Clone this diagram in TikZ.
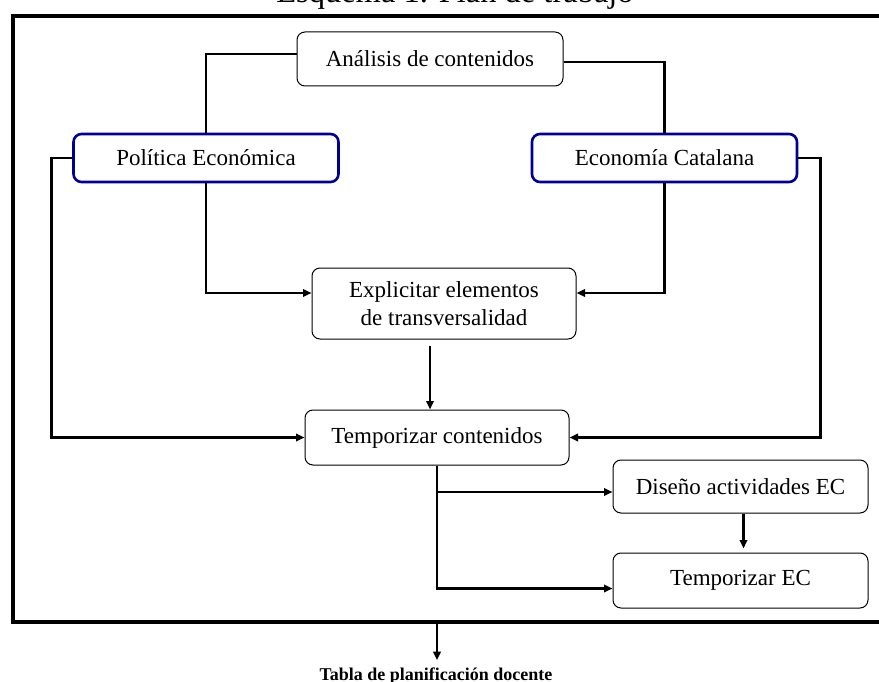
\documentclass[tikz,border=0pt]{standalone}
\usepackage{fontspec}
\setmainfont{Liberation Serif}
\usetikzlibrary{arrows.meta}
\definecolor{boxblue}{RGB}{0,0,150}
\begin{document}
\begin{tikzpicture}[x=1pt,y=-1pt,
  box/.style={draw=black, line width=1pt, rounded corners=8pt, inner sep=0pt,
    align=center, font=\fontsize{23}{28}\selectfont},
  bluebox/.style={box, draw=boxblue, line width=2.6pt},
  conn/.style={line width=2.8pt},
  arr/.style={conn, -{Triangle[length=8.5pt,width=7.5pt]}},
  frameline/.style={line width=3.2pt}]
\useasboundingbox (0,0) rectangle (879,682);

% title (cut off at the top)
\node[anchor=base, inner sep=0pt, font=\fontsize{32.5}{36}\selectfont] (title) at (455,3) {Esquema 1. Plan de trabajo};

% frame
\draw[frameline] (13,16) rectangle (884,622);

% boxes
\node[box, minimum width=266pt, minimum height=54pt] (ana) at (430,59) {Análisis de contenidos};
\node[bluebox, minimum width=265pt, minimum height=48pt] (pol) at (206,158) {Política Económica};
\node[bluebox, minimum width=265pt, minimum height=48pt] (eco) at (664.5,158) {Economía Catalana};
\node[box, minimum width=264pt, minimum height=71pt] (exp) at (444,303.5) {Explicitar elementos\\de transversalidad};
\node[box, minimum width=264pt, minimum height=55pt] (tc) at (437,437.5) {Temporizar contenidos};
\node[box, minimum width=255pt, minimum height=53pt] (dis) at (740.5,486.5) {Diseño actividades EC};
\node[box, minimum width=255pt, minimum height=55pt] (tec) at (740.5,580.5) {Temporizar EC};

% connectors
\draw[conn] ([yshift=5pt]ana.west) -| (pol.north);
\draw[conn] ([yshift=-3pt]ana.east) -| (eco.north);
\draw[arr] (pol.south) |- ([yshift=10.5pt]exp.west);
\draw[arr] (eco.south) |- ([yshift=10.5pt]exp.east);
\draw[arr] (pol.west) -- ++(-21,0) |- (tc.west);
\draw[arr] (eco.east) -- ++(22,0) |- (tc.east);
\draw[arr] ([xshift=-14pt,yshift=-6pt]exp.south) -- ([xshift=-7pt]tc.north);
\draw[arr] (tc.south) |- ([yshift=-8pt]tec.west);
\draw[arr] (tc.south |- 0,492) -- ([yshift=-5.5pt]dis.west);
\draw[arr] ([xshift=3pt]dis.south) -- ([xshift=3pt,yshift=4pt]tec.north);

% output
\coordinate (fb) at (437,622);
\node[anchor=base, inner sep=0pt, font=\bfseries\fontsize{18}{20}\selectfont] (tab) at (436,680) {Tabla de planificación docente};
\draw[arr] (fb) -- ([yshift=7pt]tab.north -| fb);
\end{tikzpicture}
\end{document}
